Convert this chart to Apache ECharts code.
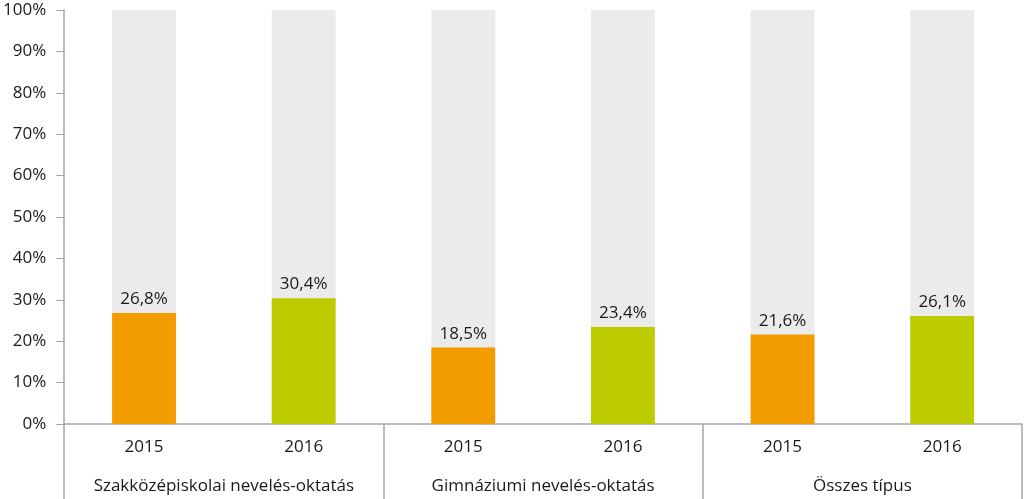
<!DOCTYPE html>
<html>
<head>
<meta charset="utf-8">
<script src="https://cdn.jsdelivr.net/npm/echarts@6/dist/echarts.min.js"></script>
<style>
  html, body { margin: 0; padding: 0; background: #fff; }
  #chart { width: 1024px; height: 499px; }
</style>
</head>
<body>
<div id="chart"></div>
<script>
// chart data
var years = ['2015', '2016', '2015', '2016', '2015', '2016'];
var groups = ['Szakközépiskolai nevelés-oktatás', 'Gimnáziumi nevelés-oktatás', 'Összes típus'];
var values = [26.8, 30.4, 18.5, 23.4, 21.6, 26.1];
var fullScale = [100, 100, 100, 100, 100, 100];
var barColors = ['#F39C00', '#BDCC00', '#F39C00', '#BDCC00', '#F39C00', '#BDCC00'];

var font = 'Open Sans';
var chart = echarts.init(document.getElementById('chart'));

chart.setOption({
  animation: false,
  grid: { left: 62, right: 2, top: 10, bottom: 75, containLabel: false },
  xAxis: [
    {
      type: 'category',
      data: years,
      axisLine: { lineStyle: { color: '#A6A6A6', width: 1.5 } },
      axisTick: { show: false },
      axisLabel: { interval: 0, color: '#1a1a1a', fontSize: 17, fontFamily: font, margin: 15 }
    },
    {
      type: 'category',
      data: groups,
      position: 'bottom',
      axisLine: { show: false },
      // long ticks act as group separators
      axisTick: { show: true, interval: 0, length: 75, lineStyle: { color: '#A6A6A6', width: 1.5 } },
      axisLabel: { interval: 0, hideOverlap: false, color: '#1a1a1a', fontSize: 17, fontFamily: font, margin: 54 }
    }
  ],
  yAxis: {
    type: 'value',
    min: 0,
    max: 100,
    interval: 10,
    axisLine: { show: true, lineStyle: { color: '#A6A6A6', width: 1.5 } },
    axisTick: { show: true, length: 8, lineStyle: { color: '#A6A6A6' } },
    splitLine: { show: false },
    axisLabel: { formatter: '{value}%', color: '#1a1a1a', fontSize: 17, fontFamily: font, margin: 18 }
  },
  series: [
    {
      type: 'bar',
      data: fullScale,
      barWidth: '40%',
      silent: true,
      itemStyle: { color: '#EBEBEB' }
    },
    {
      type: 'bar',
      barGap: '-100%',
      barWidth: '40%',
      data: values.map(function (v, i) {
        return { value: v, itemStyle: { color: barColors[i] } };
      }),
      label: {
        show: true,
        position: 'top',
        distance: 5,
        color: '#1a1a1a',
        fontSize: 17,
        fontFamily: font,
        formatter: function (p) {
          return p.value.toFixed(1).replace('.', ',') + '%';
        }
      }
    }
  ]
});
</script>
</body>
</html>
